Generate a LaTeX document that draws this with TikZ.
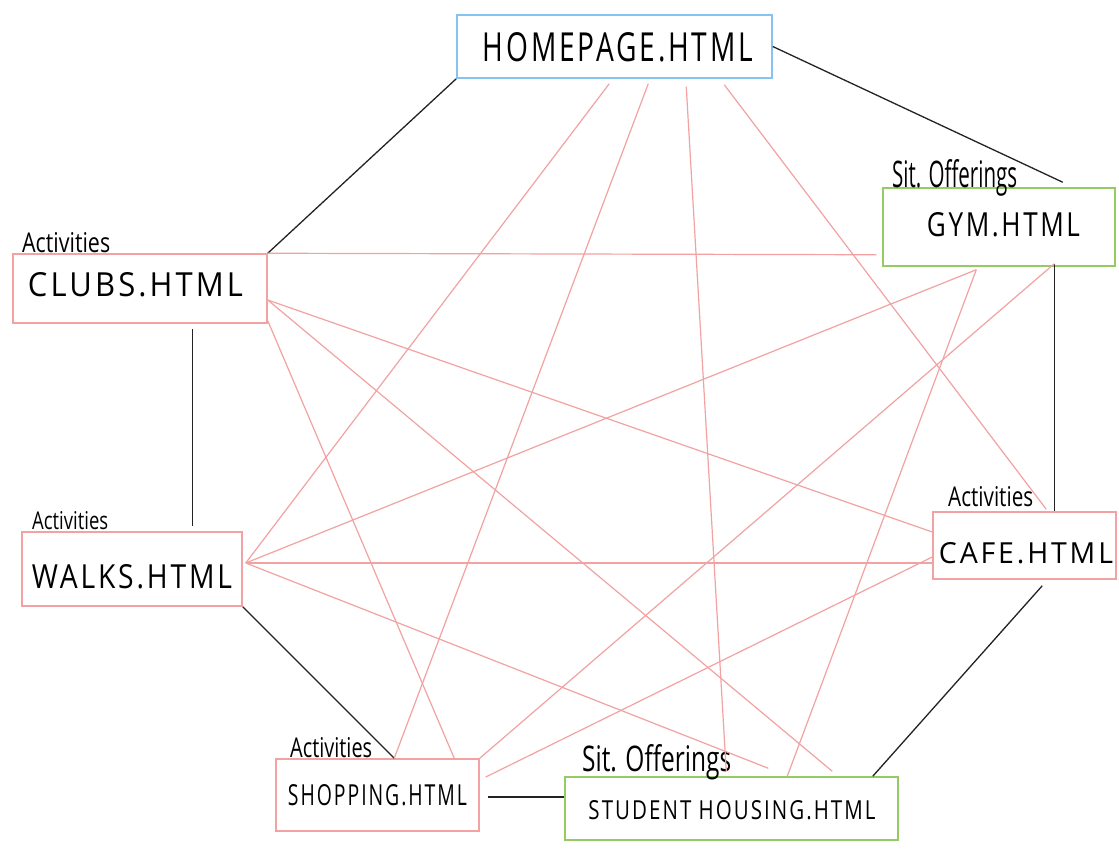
\documentclass[tikz,border=0pt]{standalone}
\usepackage{fontspec}
\setmainfont{Open Sans}
\newfontfamily\handcaps[LetterSpace=10]{Open Sans}
\usetikzlibrary{calc}
\definecolor{pinkline}{RGB}{242,162,162}
\definecolor{boxblue}{RGB}{135,195,240}
\definecolor{boxgreen}{RGB}{150,202,100}
\definecolor{darkline}{RGB}{35,35,35}
\newcommand{\fitto}[3]{\resizebox{#1pt}{#2pt}{#3}}
\tikzset{
  page/.style={draw, line width=1.5pt, inner sep=0pt},
  pinkpage/.style={page, draw=pinkline},
  bluepage/.style={page, draw=boxblue},
  greenpage/.style={page, draw=boxgreen},
  link/.style={draw=pinkline, line width=1.2pt},
  nav/.style={draw=darkline, line width=1.3pt},
  title/.style={inner sep=0pt, text=black, font=\handcaps},
  tag/.style={inner sep=0pt, text=black, anchor=west},
}
\begin{document}
\begin{tikzpicture}[x=1pt, y=-1pt]
\useasboundingbox (0,0) rectangle (1119,856);
\fill[white] (0,0) rectangle (1119,856);

% page boxes
\node[bluepage,  minimum width=315pt, minimum height=63pt] (home)     at (614.5,46.5) {};
\node[greenpage, minimum width=232pt, minimum height=78pt] (gym)      at (999,227) {};
\node[pinkpage,  minimum width=254pt, minimum height=69pt] (clubs)    at (140,288.5) {};
\node[pinkpage,  minimum width=220pt, minimum height=74pt] (walks)    at (132,569) {};
\node[pinkpage,  minimum width=183pt, minimum height=67pt] (cafe)     at (1024.5,545.5) {};
\node[pinkpage,  minimum width=203pt, minimum height=72pt] (shopping) at (377.5,795) {};
\node[greenpage, minimum width=333pt, minimum height=63pt] (student)  at (731.5,808.5) {};

% titles
\node[title] (hometext)     at (618,47)     {\fitto{270}{29}{HOMEPAGE.HTML}};
\node[title] (gymtext)      at (1003.5,225) {\fitto{153}{24}{GYM.HTML}};
\node[title] (clubstext)    at (135.5,285)  {\fitto{215}{24}{CLUBS.HTML}};
\node[title] (walkstext)    at (132,577)    {\fitto{200}{24}{WALKS.HTML}};
\node[title] (cafetext)     at (1026,553)   {\fitto{174}{21}{CAFE.HTML}};
\node[title] (shoppingtext) at (377.5,795)  {\fitto{179}{21}{SHOPPING.HTML}};
\node[title] (studenttext)  at (732,810)    {\fitto{287}{19}{STUDENT HOUSING.HTML}};

% category tags
\node[tag] (gymtag)      at (892,178) {\fitto{125}{28}{Sit. Offerings}};
\node[tag] (clubstag)    at (22,243)  {\fitto{88}{20}{Activities}};
\node[tag] (walkstag)    at (32,521)  {\fitto{76}{18}{Activities}};
\node[tag] (cafetag)     at (948,497) {\fitto{85}{20}{Activities}};
\node[tag] (shoppingtag) at (290,748) {\fitto{82}{20}{Activities}};
\node[tag] (studenttag)  at (582,762) {\fitto{149}{27}{Sit. Offerings}};

% navigation cycle (black)
\draw[nav] (home.south west) -- (clubs.north east);
\draw[nav] (home.east) -- ($(gym.north east)+(-53,-5)$);
\draw[nav] ($(gym.south west)+(172,-3)$) -- ($(cafe.north west)+(122,0)$);
\draw[nav] ($(clubs.south west)+(180,5)$) -- ($(walks.north west)+(171,-5)$);
\draw[nav] (walks.south east) -- ($(shopping.north west)+(119,0)$);
\draw[nav] ($(shopping.east)+(8,2)$) -- ($(student.west)+(0,-11.5)$);
\draw[nav] ($(student.north east)+(-26,0)$) -- ($(cafe.south west)+(110,6)$);

% cross links (pink)
\draw[link] ($(home.south west)+(153,5)$) -- ($(walks.east)+(3,-6)$);
\draw[link] ($(home.south west)+(192,5)$) -- ($(shopping.north west)+(119,0)$);
\draw[link] ($(home.south west)+(230,8)$) -- ($(student.north west)+(162,-5)$);
\draw[link] ($(home.south west)+(268,6)$) -- ($(cafe.north west)+(114,-2)$);
\draw[link] (clubs.north east) -- ($(gym.south west)+(-6,-12)$);
\draw[link] ($(clubs.east)+(0,11.5)$) -- ($(cafe.west)+(0,-13.5)$);
\draw[link] ($(clubs.east)+(0,11.5)$) -- ($(student.north west)+(268,-5)$);
\draw[link] ($(clubs.south east)+(0,-3)$) -- ($(shopping.north west)+(179,0)$);
\draw[link] ($(walks.east)+(3,-6)$) -- ($(gym.south west)+(94,3)$);
\draw[link] ($(walks.east)+(3,-6)$) -- ($(cafe.west)+(0,17.5)$);
\draw[link] ($(walks.east)+(3,-6)$) -- ($(student.north west)+(204,-8)$);
\draw[link] ($(gym.south west)+(94,3)$) -- ($(student.north west)+(223,0)$);
\draw[link] ($(gym.south west)+(172,-3)$) -- (shopping.north east);
\draw[link] ($(cafe.west)+(0,11.5)$) -- ($(shopping.east)+(6,-18)$);
\end{tikzpicture}
\end{document}
